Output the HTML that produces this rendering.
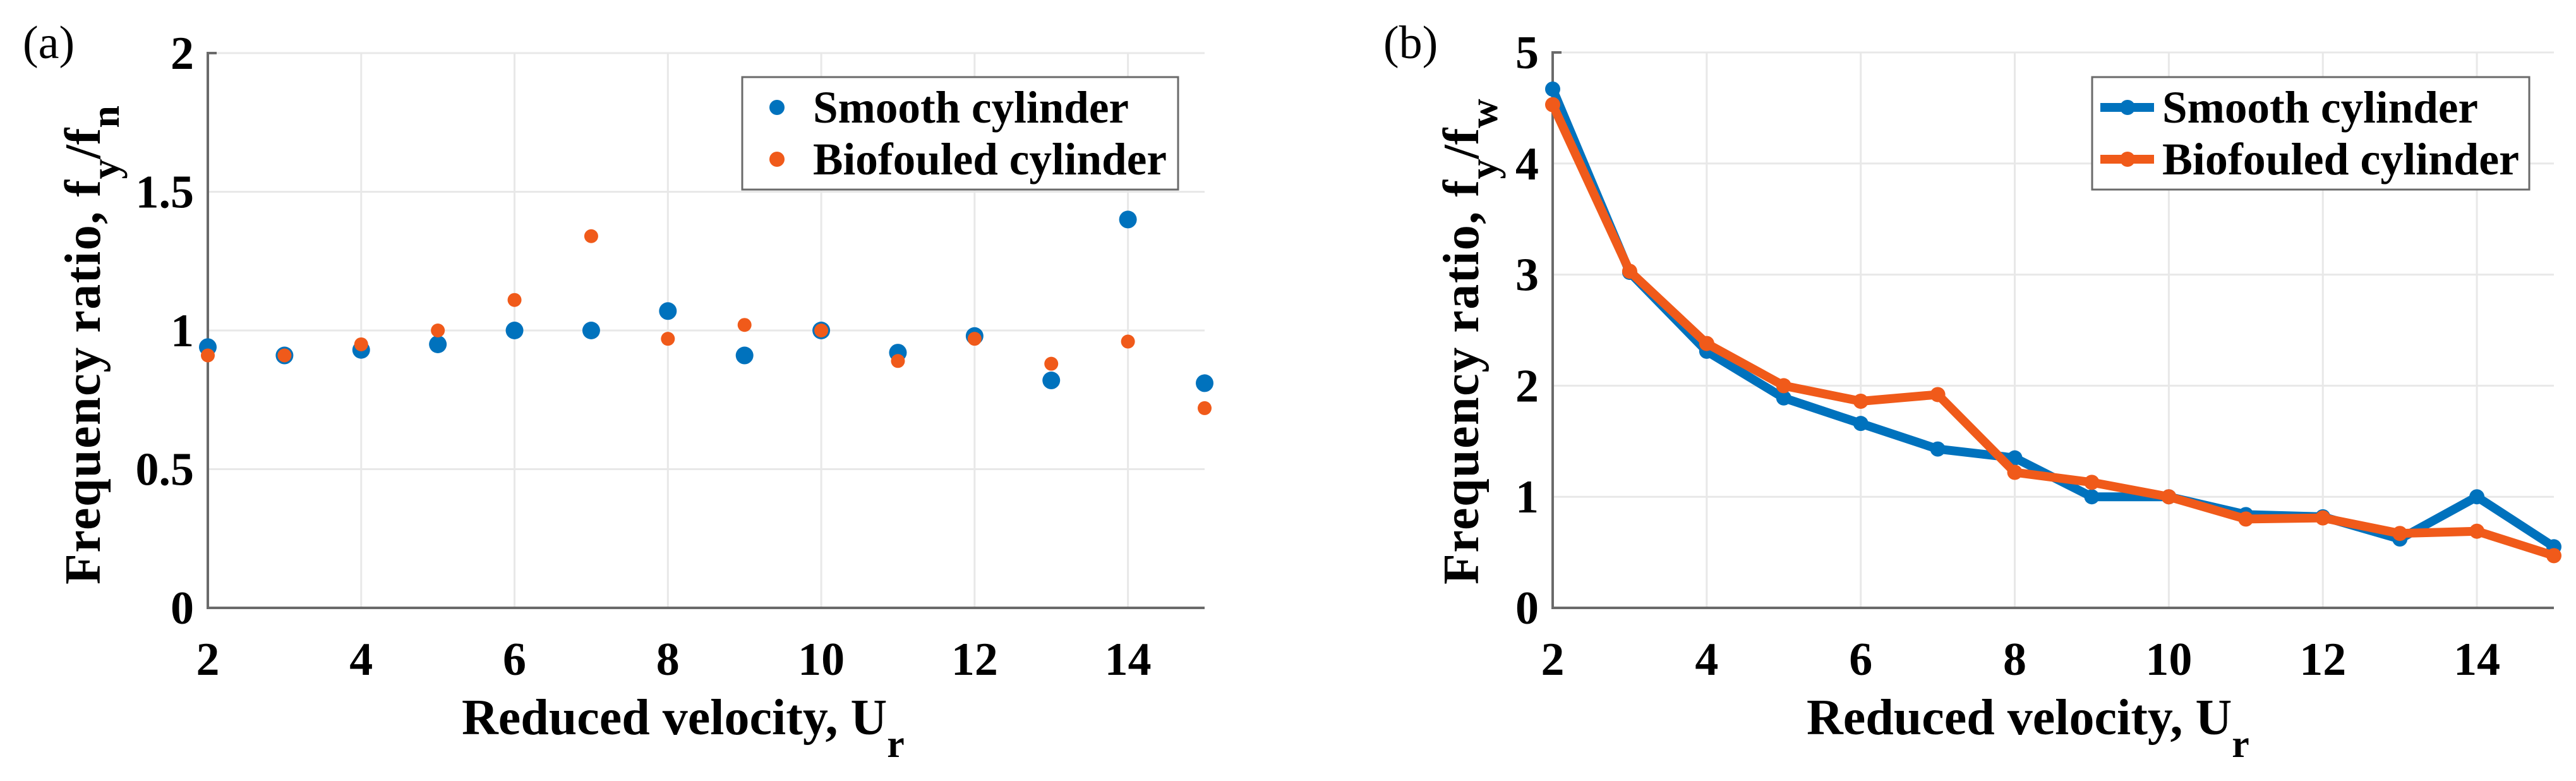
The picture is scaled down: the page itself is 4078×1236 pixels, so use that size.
<!DOCTYPE html>
<html><head><meta charset="utf-8"><style>
html,body{margin:0;padding:0;background:#fff;}
svg{display:block;font-family:"Liberation Serif",serif;}
</style></head><body>
<svg id="fig" width="4078" height="1236" viewBox="0 0 4078 1236">
<g id="pa"></g>
<g id="pb"></g>
</svg>
<script>
const ur = [2,3,4,5,6,7,8,9,10,11,12,13,14,15];
const aSmooth = [0.94,0.91,0.93,0.95,1.0,1.0,1.07,0.91,1.0,0.92,0.98,0.82,1.40,0.81];
const aBio = [0.91,0.91,0.95,1.0,1.11,1.34,0.97,1.02,1.0,0.89,0.97,0.88,0.96,0.72];
const bSmooth = [4.67,3.02,2.31,1.89,1.66,1.43,1.35,1.0,1.0,0.84,0.82,0.62,1.0,0.55];
const bBio = [4.53,3.03,2.38,2.0,1.86,1.92,1.22,1.13,1.0,0.80,0.81,0.67,0.69,0.47];
const xTicks = [2,4,6,8,10,12,14];
const aYTicks = [0,0.5,1,1.5,2];
const aYLabels = ["0","0.5","1","1.5","2"];
const bYTicks = [0,1,2,3,4,5];
const bYLabels = ["0","1","2","3","4","5"];
const seriesNames = ["Smooth cylinder","Biofouled cylinder"];

const NS="http://www.w3.org/2000/svg";
const BLUE="#0072BD", ORANGE="#F05A1A";
function mk(parent,tag,attrs,text){const e=document.createElementNS(NS,tag);for(const k in attrs)e.setAttribute(k,attrs[k]);if(text!==undefined)e.textContent=text;parent.appendChild(e);return e;}

function panel(g, L, R, T, B, ymax, yTicks, yLabels, s1, s2, lines, leg, titleX, sub, tag, tagX){
  const sx=v=>L+(v-2)/(15-2)*(R-L);
  const sy=v=>B-v/ymax*(B-T);
  // grid
  xTicks.forEach(t=>{const l=mk(g,'line',{x1:sx(t),x2:sx(t),y1:T,y2:B,stroke:'#e8e8e8','stroke-width':3});
    
    });
  yTicks.forEach(t=>{const l=mk(g,'line',{x1:L,x2:R,y1:sy(t),y2:sy(t),stroke:'#e8e8e8','stroke-width':3});
    
    });
  // axes
  const ax=mk(g,'path',{d:`M${L+14},${T} H${L} V${B} H${R}`,fill:'none',stroke:'#6a6a6a','stroke-width':4});
  
  
  // tick labels
  xTicks.forEach(t=>{const e=mk(g,'text',{x:sx(t),y:1068,'font-size':74,'font-weight':'bold','text-anchor':'middle'},String(t));
    
    });
  yTicks.forEach((t,i)=>{const e=mk(g,'text',{x:L-22,y:sy(t)+25,'font-size':74,'font-weight':'bold','text-anchor':'end'},yLabels[i]);
    
    });
  // series
  const cols=[BLUE,ORANGE], data=[s1,s2], rad=lines?[12,12]:[14,11];
  data.forEach((s,si)=>{
    if(lines){const p=mk(g,'polyline',{points:ur.map((u,i)=>sx(u)+','+sy(s[i])).join(' '),fill:'none',stroke:cols[si],'stroke-width':14,'stroke-linejoin':'round'});
      
      }
    ur.forEach((u,i)=>{const c=mk(g,'circle',{cx:sx(u),cy:sy(s[i]),r:rad[si],fill:cols[si]});
      
      });
  });
  // legend
  const lg=mk(g,'g',{});
  
  
  mk(lg,'rect',{x:leg.x,y:122,width:leg.w,height:178,fill:'#fff',stroke:'#6a6a6a','stroke-width':3});
  [170,252].forEach((yy,i)=>{
    if(lines){mk(lg,'line',{x1:leg.x+13,x2:leg.x+98,y1:yy,y2:yy,stroke:cols[i],'stroke-width':14});}
    mk(lg,'circle',{cx:lines?leg.x+56:leg.x+55,cy:yy,r:12,fill:cols[i]});
    const t=mk(lg,'text',{x:leg.tx,y:yy+24,'font-size':72,'font-weight':'bold',textLength:i?leg.t2:leg.t1,lengthAdjust:'spacingAndGlyphs'},seriesNames[i]);
    
    
  });
  // x title
  const xt=mk(g,'text',{x:titleX,y:1162,'font-size':80,'font-weight':'bold'});
  
  
  mk(xt,'tspan',{},'Reduced velocity, U');
  mk(xt,'tspan',{dy:36,'font-size':62},'r');
  // y title
  const yt=mk(g,'text',{transform:`translate(${leg.yx},925) rotate(-90)`,'font-size':80,'font-weight':'bold'});
  
  
  mk(yt,'tspan',{textLength:640,lengthAdjust:'spacing'},'Frequency ratio, f');
  mk(yt,'tspan',{dy:30,'font-size':64},'y');
  mk(yt,'tspan',{dy:-30},'/f');
  mk(yt,'tspan',{dy:30,'font-size':64},sub);
  const tg=mk(g,'text',{x:tagX,y:92,'font-size':74},tag);
  
  
}
panel(document.getElementById('pa'),329,1907,84,962,2,aYTicks,aYLabels,aSmooth,aBio,false,
  {x:1175,w:690,tx:1287,t1:500,t2:560,yx:158},731,'n','(a)',36);
panel(document.getElementById('pb'),2458,4043,83,962,5,bYTicks,bYLabels,bSmooth,bBio,true,
  {x:3312,w:692,tx:3423,t1:500,t2:565,yx:2340},2860,'w','(b)',2190);
</script>
</body></html>
